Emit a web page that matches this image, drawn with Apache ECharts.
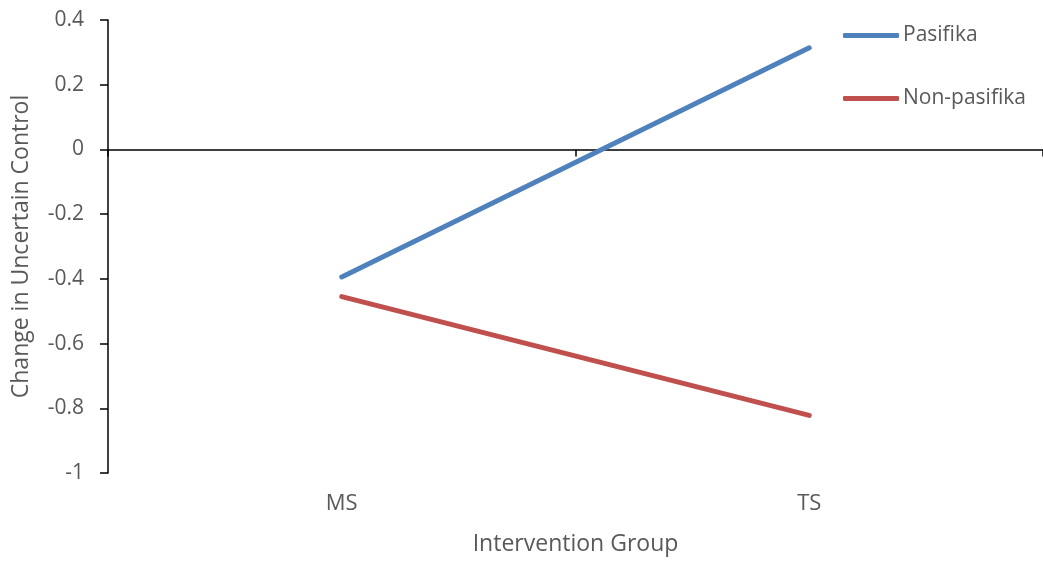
<!DOCTYPE html>
<html><head><meta charset="utf-8">
<script src="https://cdn.jsdelivr.net/npm/echarts@6/dist/echarts.min.js"></script>
<style>html,body{margin:0;padding:0;background:#fff}#c{width:1043px;height:561px}</style>
</head><body><div id="c"></div>
<script>
const categories = ['MS', 'TS'];
const pasifika = [-0.394, 0.314];
const nonPasifika = [-0.455, -0.822];
const yTicks = { min: -1, max: 0.4, interval: 0.2 };

const FONT = 'Open Sans';
const chart = echarts.init(document.getElementById('c'), null, { renderer: 'canvas' });
chart.setOption({
  animation: false,
  textStyle: { fontFamily: FONT },
  grid: { left: 108, top: 20, width: 940, height: 454 },
  legend: {
    orient: 'vertical', left: 843, top: 25, padding: 0, itemWidth: 56, itemHeight: 5, itemGap: 42,
    icon: 'roundRect',
    textStyle: { fontFamily: FONT, fontSize: 21, color: '#595959', padding: [0, 0, 0, -1] },
    data: ['Pasifika', 'Non-pasifika']
  },
  xAxis: [{
    type: 'category', data: categories, boundaryGap: true,
    axisLine: { onZero: true, lineStyle: { color: '#000', width: 1.5 } },
    axisTick: { show: true, length: 7, lineStyle: { color: '#000', width: 1.5 } },
    axisLabel: { show: false }
  }, {
    type: 'category', data: categories, position: 'bottom', boundaryGap: true,
    axisLine: { show: false }, axisTick: { show: false },
    axisLabel: { fontFamily: FONT, fontSize: 22, color: '#595959', margin: 20 },
    name: 'Intervention Group', nameLocation: 'middle', nameGap: 60,
    nameTextStyle: { fontFamily: FONT, fontSize: 23, color: '#595959' }
  }],
  yAxis: {
    type: 'value', min: yTicks.min, max: yTicks.max, interval: yTicks.interval,
    axisLine: { show: true, lineStyle: { color: '#000', width: 1.5 } },
    axisTick: { show: true, length: 8, lineStyle: { color: '#000', width: 1.5 } },
    splitLine: { show: false },
    axisLabel: { fontFamily: FONT, fontSize: 21, color: '#595959', margin: 24,
      formatter: v => String(Math.round(v * 10) / 10) },
    name: 'Change in Uncertain Control', nameLocation: 'middle', nameGap: 75,
    nameTextStyle: { fontFamily: FONT, fontSize: 23, color: '#595959' }
  },
  series: [{
    name: 'Pasifika', type: 'line', data: pasifika, xAxisIndex: 0,
    symbol: 'none', lineStyle: { color: '#4F81BD', width: 5, cap: 'round' },
    itemStyle: { color: '#4F81BD' }
  }, {
    name: 'Non-pasifika', type: 'line', data: nonPasifika, xAxisIndex: 0,
    symbol: 'none', lineStyle: { color: '#C0504D', width: 5, cap: 'round' },
    itemStyle: { color: '#C0504D' }
  }]
});
</script></body></html>
